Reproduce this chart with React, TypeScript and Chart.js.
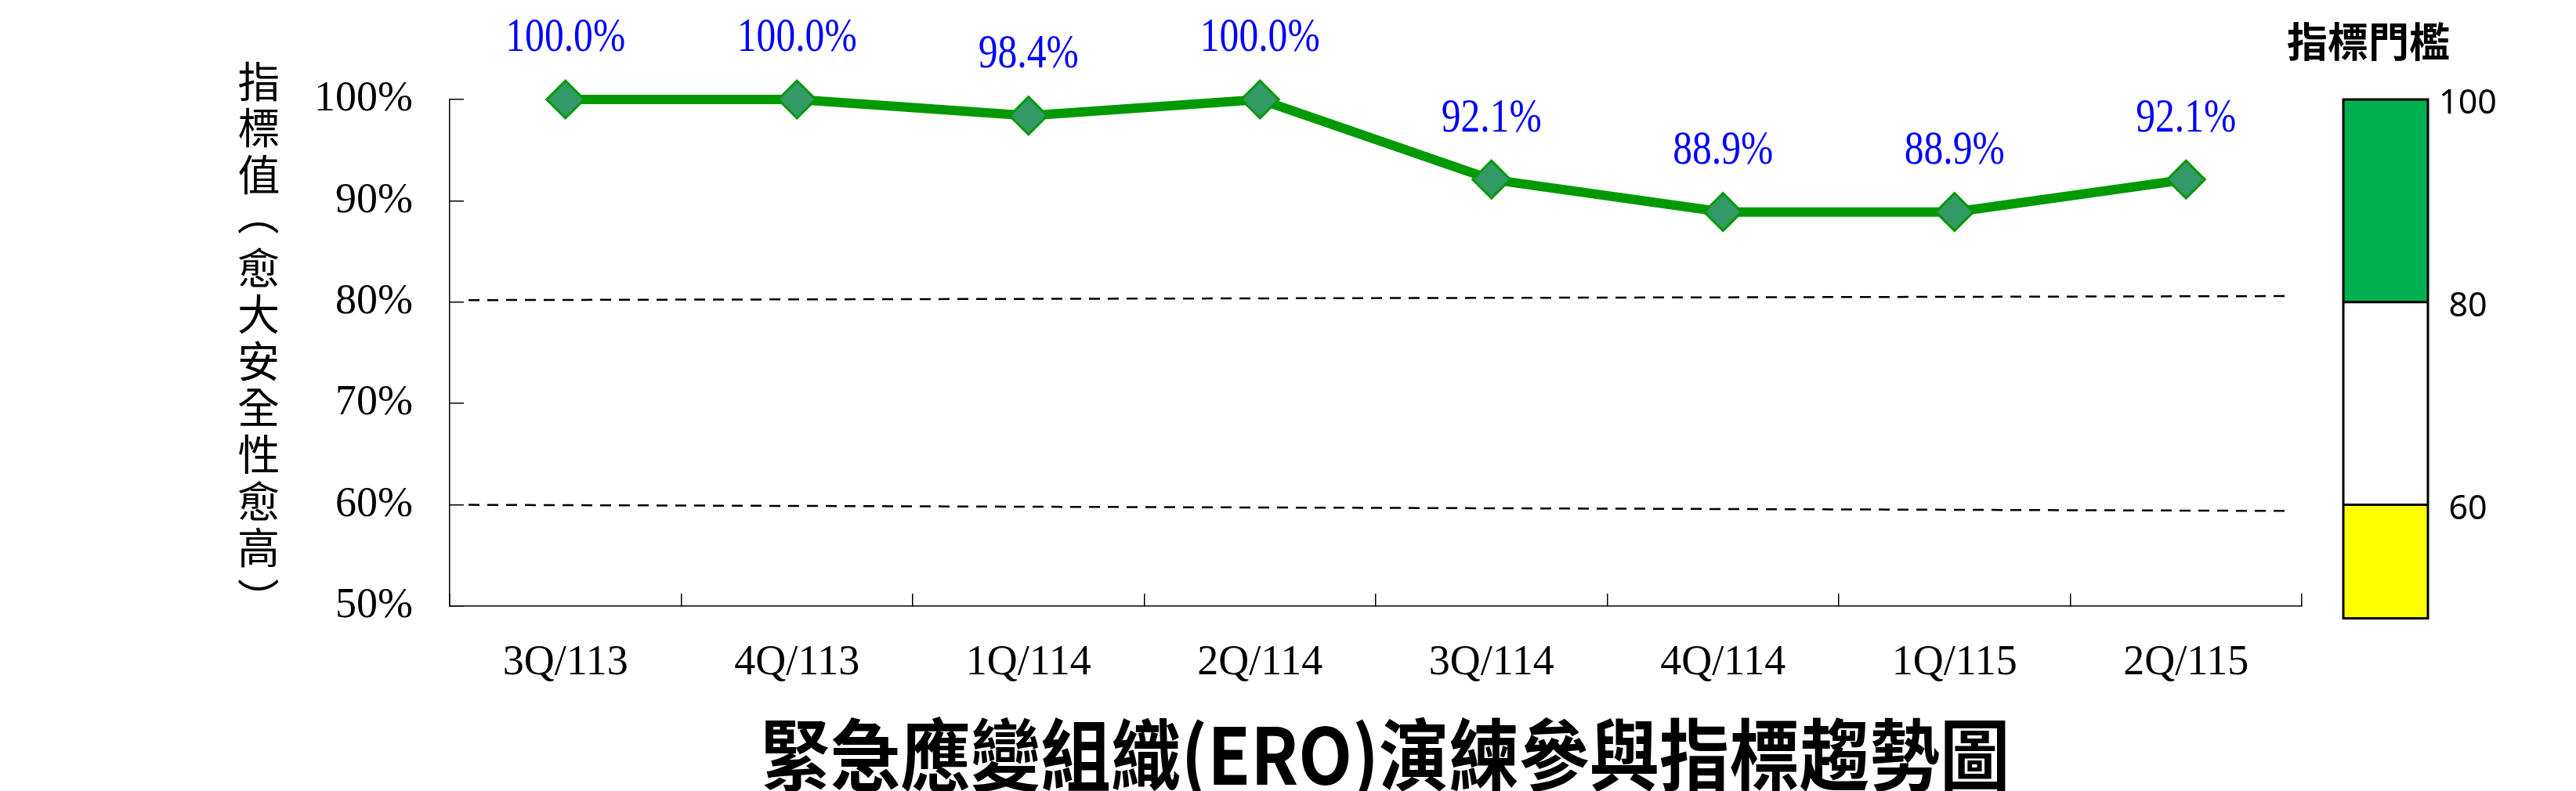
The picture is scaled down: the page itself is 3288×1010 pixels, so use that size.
import { useEffect, useRef } from "react";
import { Chart, registerables } from "chart.js";

Chart.register(...registerables);

// quarters (ROC year) and indicator values (%)
const quarters = ["3Q/113", "4Q/113", "1Q/114", "2Q/114", "3Q/114", "4Q/114", "1Q/115", "2Q/115"];
const indicator = [100.0, 100.0, 98.4, 100.0, 92.1, 88.9, 88.9, 92.1];
const yTicks = [50, 60, 70, 80, 90, 100];

// dashed threshold lines (left end / right end values, slightly tilted in the original)
const thresholdStart = [80.2, 60.0];
const thresholdEnd = [80.6, 59.4];

// threshold gauge on the right
const gaugeLevels = [100, 80, 60];
const gaugeBottom = 48.8;
const gaugeColors = ["#00B050", "#FFFFFF", "#FFFF00"];

const yTitle = "指標值（愈大安全性愈高）";
const chartTitle = "緊急應變組織(ERO)演練參與指標趨勢圖";
const gaugeTitle = "指標門檻";

const SERIF = "'Liberation Serif', 'Times New Roman', serif";
const CJK = "'Noto Sans CJK TC', 'Noto Sans CJK SC', sans-serif";

const decor = {
  id: "decor",
  beforeDatasetsDraw(chart: any) {
    const { ctx, chartArea, scales } = chart;
    const y = scales.y;
    ctx.save();
    ctx.strokeStyle = "#000";
    ctx.lineWidth = 2.5;
    ctx.setLineDash([14, 10]);
    thresholdStart.forEach((v, i) => {
      ctx.beginPath();
      ctx.moveTo(chartArea.left + 24, y.getPixelForValue(v));
      ctx.lineTo(chartArea.right - 16, y.getPixelForValue(thresholdEnd[i]));
      ctx.stroke();
    });
    ctx.restore();
  },
  afterDatasetsDraw(chart: any) {
    const { ctx, chartArea, scales } = chart;
    const y = scales.y;
    ctx.save();

    // value labels
    const meta = chart.getDatasetMeta(0);
    ctx.fillStyle = "#0000FF";
    ctx.font = `62px ${SERIF}`;
    ctx.textAlign = "center";
    ctx.textBaseline = "middle";
    meta.data.forEach((pt: any, i: number) => {
      ctx.save();
      ctx.translate(pt.x, pt.y - 78);
      ctx.scale(0.8, 1);
      ctx.fillText(indicator[i].toFixed(1) + "%", 0, 0);
      ctx.restore();
    });

    // vertical y-axis title, one glyph per row, brackets turned
    ctx.fillStyle = "#000";
    ctx.font = `54px ${CJK}`;
    ctx.textAlign = "left";
    ctx.textBaseline = "alphabetic";
    Array.from(yTitle).forEach((c, i) => {
      const m = ctx.measureText(c);
      const ox = (m.actualBoundingBoxRight - m.actualBoundingBoxLeft) / 2;
      const oy = (m.actualBoundingBoxDescent - m.actualBoundingBoxAscent) / 2;
      let cy = chartArea.top - 23.5 + i * 59.5;
      if (c === "（") cy += 9;
      if (c === "）") cy -= 11;
      ctx.save();
      ctx.translate(chartArea.left - 244, cy);
      if (c === "（" || c === "）") ctx.rotate(Math.PI / 2);
      ctx.fillText(c, -ox, -oy);
      ctx.restore();
    });
    ctx.textAlign = "center";
    ctx.textBaseline = "middle";

    // gauge
    const gx0 = chartArea.right + 53;
    const gx1 = chartArea.right + 161;
    const levels = [...gaugeLevels, gaugeBottom];
    for (let i = 0; i < gaugeColors.length; i++) {
      const top = y.getPixelForValue(levels[i]);
      const bot = y.getPixelForValue(levels[i + 1]);
      ctx.fillStyle = gaugeColors[i];
      ctx.fillRect(gx0, top, gx1 - gx0, bot - top);
    }
    ctx.strokeStyle = "#000";
    ctx.lineWidth = 3;
    const gTop = y.getPixelForValue(levels[0]);
    const gBot = y.getPixelForValue(gaugeBottom);
    ctx.strokeRect(gx0, gTop, gx1 - gx0, gBot - gTop);
    gaugeLevels.slice(1).forEach((v) => {
      const py = y.getPixelForValue(v);
      ctx.beginPath();
      ctx.moveTo(gx0, py);
      ctx.lineTo(gx1, py);
      ctx.stroke();
    });
    ctx.fillStyle = "#000";
    ctx.font = "43px 'Noto Sans', sans-serif";
    gaugeLevels.forEach((v) => {
      ctx.fillText(String(v), chartArea.right + 212, y.getPixelForValue(v) + 6);
    });
    ctx.font = `bold 52px ${CJK}`;
    ctx.fillText(gaugeTitle, chartArea.right + 85, chartArea.top - 74);

    // chart title, condensed
    ctx.font = `bold 100px ${CJK}`;
    const w = ctx.measureText(chartTitle).width;
    ctx.save();
    ctx.translate((chartArea.left + chartArea.right) / 2 + 12, chartArea.bottom + 190);
    ctx.scale(1595 / w, 1);
    ctx.fillText(chartTitle, 0, 0);
    ctx.restore();

    ctx.restore();
  },
};

const App = () => {
  const canvasRef = useRef<HTMLCanvasElement>(null);

  useEffect(() => {
    if (!canvasRef.current) return;
    const chart = new Chart(canvasRef.current, {
      type: "line",
      data: {
        labels: quarters,
        datasets: [
          {
            label: "指標值",
            data: indicator,
            borderColor: "#009900",
            borderWidth: 12,
            pointStyle: "rectRot",
            pointRadius: 24,
            pointBackgroundColor: "#339966",
            pointBorderColor: "#009900",
            pointBorderWidth: 3,
            clip: false,
            tension: 0,
          },
        ],
      },
      options: {
        animation: false,
        responsive: true,
        maintainAspectRatio: false,
        layout: { padding: { left: 0, top: 127, right: 350, bottom: 0 } },
        plugins: { legend: { display: false }, tooltip: { enabled: false } },
        scales: {
          x: {
            offset: true,
            grid: { offset: true, drawOnChartArea: false, drawTicks: true, tickLength: -16, color: "#000", lineWidth: 1.5 },
            border: { display: true, color: "#000", width: 1.5 },
            ticks: { color: "#000", font: { family: SERIF, size: 54 }, padding: 56, maxRotation: 0 },
            afterFit: (s: any) => {
              s.height = 236;
            },
          },
          y: {
            min: 50,
            max: 100,
            grid: { drawOnChartArea: false, drawTicks: true, tickLength: -18, color: "#000", lineWidth: 1.5 },
            border: { display: true, color: "#000", width: 1.5 },
            ticks: {
              color: "#000",
              font: { family: SERIF, size: 54 },
              padding: 65,
              callback: (v: any) => v + "%",
            },
            afterBuildTicks: (s: any) => {
              s.ticks = yTicks.map((v) => ({ value: v }));
            },
            afterFit: (s: any) => {
              s.width = 574;
            },
          },
        },
      },
      plugins: [decor],
    });
    return () => chart.destroy();
  }, []);

  return (
    <div style={{ position: "absolute", left: 0, top: 0, width: 3288, height: 1010, background: "#fff" }}>
      <canvas ref={canvasRef} />
    </div>
  );
};

export default App;
